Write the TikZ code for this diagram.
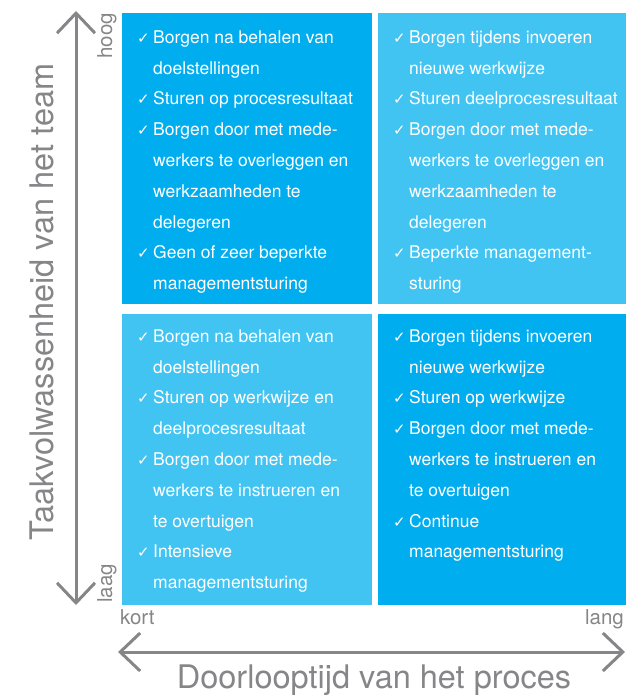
\documentclass[tikz,border=0pt]{standalone}
\usepackage{fontspec}
\setmainfont{TeX Gyre Heros}
\newfontfamily\vinkfont{DejaVu Sans}
\usetikzlibrary{arrows.meta}
\definecolor{donkerblauw}{RGB}{0,174,239}
\definecolor{lichtblauw}{RGB}{66,196,242}
\definecolor{asgrijs}{RGB}{134,134,136}
\newcommand{\vink}{\makebox[16pt][l]{\vinkfont\fontsize{15}{15}\selectfont ✓}}
\newcommand{\verder}{\hspace*{16pt}}
\begin{document}
\begin{tikzpicture}[x=1pt, y=-1pt,
  vak/.style={inner sep=0pt, minimum height=291pt},
  vaktekst/.style={anchor=north west, inner sep=0pt, align=left, text=white,
    font=\fontsize{17.5}{30.8}\selectfont},
  as/.style={draw=asgrijs, line width=3pt,
    {Straight Barb[length=20pt,width=38pt]}-{Straight Barb[length=20pt,width=38pt]}},
  klein/.style={inner sep=0pt, text=asgrijs, font=\fontsize{20.5}{20.5}\selectfont},
  groot/.style={inner sep=0pt, text=asgrijs, font=\fontsize{32.5}{32.5}\selectfont}]
  \useasboundingbox (0,0) rectangle (626,695);

  % Quadrants
  \node[vak, fill=donkerblauw, minimum width=250pt] (lb) at (247,158.5) {};
  \node[vak, fill=lichtblauw, minimum width=248pt] (rb) at (502,158.5) {};
  \node[vak, fill=lichtblauw, minimum width=250pt] (lo) at (247,459.5) {};
  \node[vak, fill=donkerblauw, minimum width=248pt] (ro) at (502,459.5) {};

  % Top left: hoog, kort
  \node[vaktekst] (lbtekst) at (137,30) {\rule{0pt}{13pt}\vink Borgen na behalen van\\
    \verder doelstellingen\\
    \vink Sturen op procesresultaat\\
    \vink Borgen door met mede-\\
    \verder werkers te overleggen en\\
    \verder werkzaamheden te\\
    \verder delegeren\\
    \vink Geen of zeer beperkte\\
    \verder managementsturing};

  % Top right: hoog, lang
  \node[vaktekst] (rbtekst) at (393,30) {\rule{0pt}{13pt}\vink Borgen tijdens invoeren\\
    \verder nieuwe werkwijze\\
    \vink Sturen deelprocesresultaat\\
    \vink Borgen door met mede-\\
    \verder werkers te overleggen en\\
    \verder werkzaamheden te\\
    \verder delegeren\\
    \vink Beperkte management-\\
    \verder sturing};

  % Bottom left: laag, kort
  \node[vaktekst] (lotekst) at (137,329) {\rule{0pt}{13pt}\vink Borgen na behalen van\\
    \verder doelstellingen\\
    \vink Sturen op werkwijze en\\
    \verder deelprocesresultaat\\
    \vink Borgen door met mede-\\
    \verder werkers te instrueren en\\
    \verder te overtuigen\\
    \vink Intensieve\\
    \verder managementsturing};

  % Bottom right: laag, lang
  \node[vaktekst] (rotekst) at (393,329) {\rule{0pt}{13pt}\vink Borgen tijdens invoeren\\
    \verder nieuwe werkwijze\\
    \vink Sturen op werkwijze\\
    \vink Borgen door met mede-\\
    \verder werkers te instrueren en\\
    \verder te overtuigen\\
    \vink Continue\\
    \verder managementsturing};

  % Axes
  \coordinate (yboven) at (76,11);
  \coordinate (yonder) at (76,605);
  \coordinate (xlinks) at (118,652);
  \coordinate (xrechts) at (625,652);
  \draw[as] (yboven) -- (yonder);
  \draw[as] (xlinks) -- (xrechts);

  % Axis labels
  \node[klein, rotate=90, anchor=base east] (hoog) at (112,13) {hoog};
  \node[klein, rotate=90, anchor=base west] (laag) at (112,603) {laag};
  \node[klein, anchor=base west] (kort) at (120,624) {kort};
  \node[klein, anchor=base east] (lang) at (624,624) {lang};
  \node[groot, rotate=90, anchor=base] (taak) at (53,302) {Taakvolwassenheid van het team};
  \node[groot, anchor=base] (doorloop) at (374,688) {Doorlooptijd van het proces};
\end{tikzpicture}
\end{document}
